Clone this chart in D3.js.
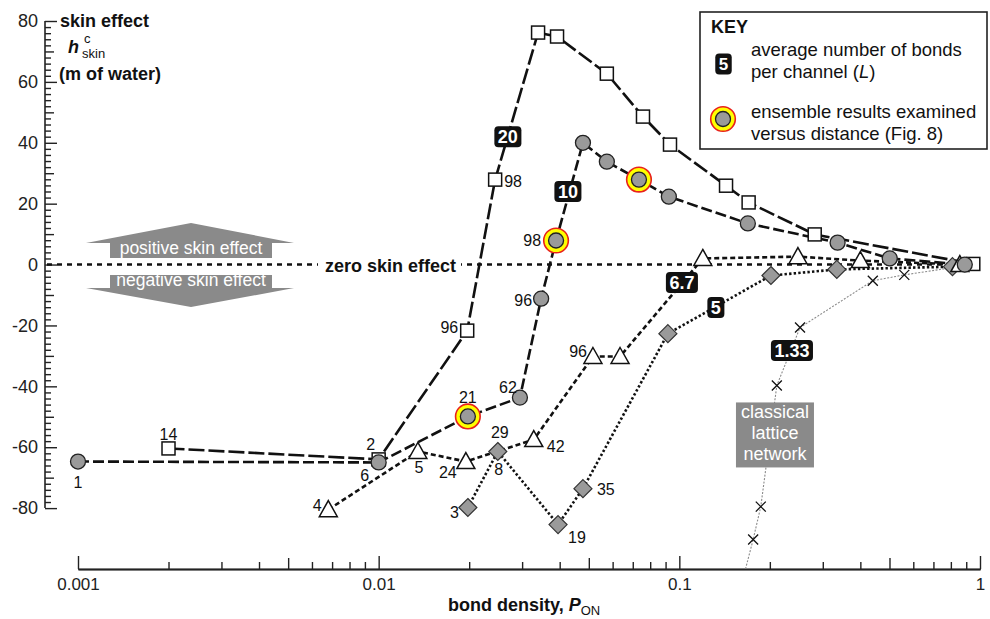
<!DOCTYPE html>
<html><head><meta charset="utf-8">
<script src="https://cdn.jsdelivr.net/npm/d3@7"></script>
<style>
body{margin:0;background:#fff}
svg{display:block;font-family:Arial,"Liberation Sans",sans-serif}
</style>
</head><body>
<svg id="c" width="990" height="619"></svg>
<script>
// ---------------- data ----------------
// L = 20 (open squares)
const s20P = [0.002, 0.01, 0.0197, 0.0244, 0.0339, 0.0392, 0.0574, 0.0757, 0.0931, 0.143, 0.170, 0.282, 0.95];
const s20H = [-60.4, -64, -21.7, 27.9, 76.2, 74.9, 62.7, 48.6, 39.4, 25.9, 20.4, 9.9, 0.2];
// L = 10 (grey circles)
const c10P = [0.001, 0.01, 0.0198, 0.0295, 0.0347, 0.0389, 0.0478, 0.0574, 0.0734, 0.0923, 0.169, 0.336, 0.501, 0.89];
const c10H = [-64.7, -65, -49.9, -43.7, -11.2, 7.9, 40.0, 33.8, 27.9, 22.3, 13.5, 7.2, 2.0, 0];
const c10Ringed = [false, false, true, false, false, true, false, false, true, false, false, false, false, false];
// L = 6.7 (open triangles)
const t67P = [0.0068, 0.0135, 0.0195, 0.0328, 0.0516, 0.0635, 0.1197, 0.248, 0.40, 0.857];
const t67H = [-80.5, -61.4, -64.7, -57.5, -30.2, -30.2, 2.0, 2.6, 1.3, 0];
// L = 5 (grey diamonds)
const d5P = [0.0198, 0.0249, 0.0395, 0.0478, 0.0916, 0.2017, 0.334, 0.81];
const d5H = [-79.8, -61.4, -85.4, -73.6, -22.7, -3.6, -1.6, -0.7];
// L = 1.33 classical lattice (crosses)
const x133P = [0.166, 0.176, 0.1866, 0.211, 0.252, 0.44, 0.56, 0.9];
const x133H = [-100, -90.3, -79.5, -39.7, -20.7, -5.3, -3.4, -0.3];
const x133Marked = [false, true, true, true, true, true, true, false];

// point labels: [series, point index, text]
const pointLabels = [
  ["s20",0,"14"],["s20",1,"2"],["s20",2,"96"],["s20",3,"98"],
  ["c10",0,"1"],["c10",1,"6"],["c10",2,"21"],["c10",3,"62"],["c10",4,"96"],["c10",5,"98"],
  ["t67",0,"4"],["t67",1,"5"],["t67",2,"24"],["t67",3,"42"],["t67",4,"96"],
  ["d5",0,"3"],["d5",1,"29"],["d5",1,"8"],["d5",2,"19"],["d5",3,"35"]
];
// L badges
const badgeText = ["20", "10", "6.7", "5", "1.33"];
const badgeP = [0.0269, 0.0426, 0.102, 0.1323, 0.2369];
const badgeH = [42, 24, -5.9, -14.1, -28.2];

const xTickValues = [0.001, 0.01, 0.1, 1];
const xTickLabels = ["0.001", "0.01", "0.1", "1"];
const yTickValues = [-80, -60, -40, -20, 0, 20, 40, 60, 80];

// ---------------- layout/styles ----------------
const labelPlacement = [
  [0,-8,"middle"],[-8,-9,"middle"],[-9,2,"end"],[9,7,"start"],
  [0,26,"middle"],[-14,19,"middle"],[0,-13,"middle"],[-12,-5,"middle"],[-9,7,"end"],[-15,5,"end"],
  [-11,1,"middle"],[1,22,"middle"],[-18,16,"middle"],[13,12,"start"],[-6,1,"end"],
  [-9,10,"end"],[2,-13,"middle"],[1,24,"middle"],[10,18,"start"],[14,6,"start"]
];
const GREY = "#9a9a9a";
const BOXGREY = "#8a8a8a";

const svg = d3.select("#c");
const x = d3.scaleLog().domain([0.001, 1]).range([78, 980]);
const y = d3.scaleLinear().domain([-100, 80]).range([569, 21]);
const AX = 45;

// ---------------- axes ----------------
const yg = svg.append("g").attr("transform", `translate(${AX},0)`);
const yMinor = d3.range(-80, 81, 2).filter(v => v % 10 !== 0);
const yMid = d3.range(-70, 71, 20);
yg.append("g").call(d3.axisLeft(y).tickValues(yMinor).tickSize(-6).tickFormat(""));
yg.append("g").call(d3.axisLeft(y).tickValues(yMid).tickSize(-9).tickFormat(""));
yg.append("g").call(d3.axisLeft(y).tickValues(yTickValues).tickSize(-12).tickPadding(7).tickFormat(d => String(d)));
yg.selectAll(".domain").remove();
yg.selectAll("line").attr("stroke", "#222").attr("stroke-width", 1.4);
yg.selectAll("text").attr("font-size", 18).attr("font-family", 'Arial,"Liberation Sans",sans-serif').attr("fill", "#222");
yg.append("line").attr("x1", 0).attr("x2", 0).attr("y1", y(-80)).attr("y2", y(80)).attr("stroke", "#222").attr("stroke-width", 1.6);

const xg = svg.append("g").attr("transform", `translate(0,${y(-100)})`);
const xMinor = [], xFive = [];
[0.001, 0.01, 0.1].forEach(k => { for (let m = 2; m <= 9; m++) (m === 5 ? xFive : xMinor).push(m * k); });
xg.append("g").call(d3.axisBottom(x).tickValues(xMinor).tickSize(-7).tickSizeOuter(0).tickFormat(""));
xg.append("g").call(d3.axisBottom(x).tickValues(xFive).tickSize(-11).tickSizeOuter(0).tickFormat(""));
xg.append("g").call(d3.axisBottom(x).tickValues(xTickValues).tickSize(-13).tickSizeOuter(0).tickPadding(9)
  .tickFormat((d, i) => xTickLabels[i]));
xg.selectAll(".domain").attr("stroke", "#222").attr("stroke-width", 1.6);
xg.selectAll("line").attr("stroke", "#222").attr("stroke-width", 1.4);
xg.selectAll("text").attr("font-size", 17).attr("font-family", 'Arial,"Liberation Sans",sans-serif').attr("fill", "#222");

// axis titles
const yt = svg.append("g").attr("font-weight", "bold").attr("fill", "#111");
yt.append("text").attr("x", 60).attr("y", 27).attr("font-size", 18).text("skin effect");
const ht = yt.append("text").attr("x", 68).attr("y", 53).attr("font-size", 18);
ht.append("tspan").attr("font-style", "italic").text("h");
yt.append("text").attr("x", 84).attr("y", 43).attr("font-size", 13).attr("font-weight", "normal").text("c");
yt.append("text").attr("x", 82).attr("y", 58).attr("font-size", 13).attr("font-weight", "normal").text("skin");
yt.append("text").attr("x", 59).attr("y", 80).attr("font-size", 18).text("(m of water)");

const xt = svg.append("text").attr("x", 448).attr("y", 611).attr("font-size", 18).attr("font-weight", "bold").attr("fill", "#111");
xt.append("tspan").text("bond density, ");
xt.append("tspan").attr("font-style", "italic").text("P");
xt.append("tspan").attr("font-size", 13).attr("font-weight", "normal").attr("dy", 4).text("ON");

// ---------------- zero line & arrows ----------------
svg.append("line").attr("x1", AX + 2).attr("x2", x(1)).attr("y1", y(0)).attr("y2", y(0))
  .attr("stroke", "#111").attr("stroke-width", 2.4).attr("stroke-dasharray", "5,5");
svg.append("rect").attr("x", 318).attr("y", y(0) - 12).attr("width", 143).attr("height", 22).attr("fill", "#fff");
svg.append("text").attr("x", 325).attr("y", y(0) + 7).attr("font-size", 18).attr("font-weight", "bold").attr("fill", "#111").text("zero skin effect");

svg.append("polygon").attr("fill", BOXGREY)
  .attr("points", "86,243 191,223 294,243 272,243 272,258 110,258 110,243");
svg.append("polygon").attr("fill", BOXGREY)
  .attr("points", "110,275 272,275 272,288 294,288 191,307 86,288 110,288");
svg.append("text").attr("x", 191).attr("y", 254).attr("text-anchor", "middle").attr("font-size", 17.5).attr("fill", "#fff").text("positive skin effect");
svg.append("text").attr("x", 191).attr("y", 286).attr("text-anchor", "middle").attr("font-size", 17.5).attr("fill", "#fff").text("negative skin effect");

// ---------------- series ----------------
const zip = (P, H) => P.map((p, i) => ({ p, h: H[i], i }));
const s20 = zip(s20P, s20H), c10 = zip(c10P, c10H), t67 = zip(t67P, t67H), d5 = zip(d5P, d5H), x133 = zip(x133P, x133H);
const lineGen = d3.line().x(d => x(d.p)).y(d => y(d.h));

svg.append("defs").append("clipPath").attr("id", "plot").append("rect")
  .attr("x", AX).attr("y", 0).attr("width", 990 - AX).attr("height", y(-100));
const lines = svg.append("g").attr("clip-path", "url(#plot)").attr("fill", "none");
lines.append("path").attr("d", lineGen(x133)).attr("stroke", "#8a8a8a").attr("stroke-width", 1.1).attr("stroke-dasharray", "2,1.5");
lines.append("path").attr("d", lineGen(d5)).attr("stroke", "#111").attr("stroke-width", 2.6).attr("stroke-dasharray", "2.4,2.2");
lines.append("path").attr("d", lineGen(t67)).attr("stroke", "#111").attr("stroke-width", 2.6).attr("stroke-dasharray", "5,3");
lines.append("path").attr("d", lineGen(c10)).attr("stroke", "#111").attr("stroke-width", 2.6).attr("stroke-dasharray", "11,4");
lines.append("path").attr("d", lineGen(s20)).attr("stroke", "#111").attr("stroke-width", 2.6).attr("stroke-dasharray", "16,4");

const mk = svg.append("g");
mk.selectAll(".xm").data(x133.filter(d => x133Marked[d.i])).join("path")
  .attr("transform", d => `translate(${x(d.p)},${y(d.h)})`)
  .attr("d", "M-5,-5L5,5M-5,5L5,-5").attr("stroke", "#111").attr("stroke-width", 1.3).attr("fill", "none");
mk.selectAll(".dm").data(d5).join("path")
  .attr("transform", d => `translate(${x(d.p)},${y(d.h)})`)
  .attr("d", "M0,-9L9,0L0,9L-9,0Z").attr("fill", GREY).attr("stroke", "#333").attr("stroke-width", 1.2);
mk.selectAll(".tm").data(t67).join("path")
  .attr("transform", d => `translate(${x(d.p)},${y(d.h)})`)
  .attr("d", "M0,-9L9,7L-9,7Z").attr("fill", "#fff").attr("stroke", "#111").attr("stroke-width", 1.5);
mk.selectAll(".sm").data(s20).join("rect")
  .attr("x", d => x(d.p) - 6.5).attr("y", d => y(d.h) - 6.5).attr("width", 13).attr("height", 13)
  .attr("fill", "#fff").attr("stroke", "#111").attr("stroke-width", 1.5);
mk.selectAll(".rm").data(c10.filter(d => c10Ringed[d.i])).join("circle")
  .attr("cx", d => x(d.p)).attr("cy", d => y(d.h)).attr("r", 12.3)
  .attr("fill", "#ffff00").attr("stroke", "#e8211c").attr("stroke-width", 1.6);
mk.selectAll(".cm").data(c10).join("circle")
  .attr("cx", d => x(d.p)).attr("cy", d => y(d.h)).attr("r", 7.5)
  .attr("fill", GREY).attr("stroke", "#222").attr("stroke-width", 1.3);

const seriesMap = { s20, c10, t67, d5 };
svg.append("g").attr("font-size", 16).attr("fill", "#111")
  .selectAll("text").data(pointLabels).join("text")
  .attr("x", (d, i) => x(seriesMap[d[0]][d[1]].p) + labelPlacement[i][0])
  .attr("y", (d, i) => y(seriesMap[d[0]][d[1]].h) + labelPlacement[i][1])
  .attr("text-anchor", (d, i) => labelPlacement[i][2])
  .text(d => d[2]);

function badge(g, cx, cy, txt, fs) {
  const t = g.append("text").attr("x", cx).attr("y", cy + fs * 0.36).attr("text-anchor", "middle")
    .attr("font-size", fs).attr("font-weight", "bold").attr("fill", "#fff").text(txt);
  const w = t.node().getComputedTextLength() + 7;
  g.insert("rect", "text").attr("x", cx - w / 2).attr("y", cy - 10.5).attr("width", w).attr("height", 21)
    .attr("rx", 4).attr("fill", "#111");
}
badgeText.forEach((t, i) => badge(svg.append("g"), x(badgeP[i]), y(badgeH[i]), t, 18));

const clx = x(0.208), cly = y(-55.8);
svg.append("rect").attr("x", clx - 39).attr("y", cly - 32).attr("width", 78).attr("height", 65).attr("fill", BOXGREY);
["classical", "lattice", "network"].forEach((t, i) =>
  svg.append("text").attr("x", clx).attr("y", cly - 16 + i * 21).attr("text-anchor", "middle")
    .attr("font-size", 18).attr("fill", "#fff").text(t));

// ---------------- key ----------------
const key = svg.append("g");
key.append("rect").attr("x", 700).attr("y", 12).attr("width", 287).attr("height", 137)
  .attr("fill", "#fff").attr("stroke", "#222").attr("stroke-width", 1.6);
key.append("text").attr("x", 711).attr("y", 33).attr("font-size", 18).attr("font-weight", "bold").attr("fill", "#111").text("KEY");
badge(key.append("g"), 723.5, 64, "5", 17);
key.append("text").attr("x", 751).attr("y", 56).attr("font-size", 18.5).attr("fill", "#111").text("average number of bonds");
const pc = key.append("text").attr("x", 751).attr("y", 78).attr("font-size", 18.5).attr("fill", "#111");
pc.append("tspan").text("per channel (");
pc.append("tspan").attr("font-style", "italic").text("L");
pc.append("tspan").text(")");
key.append("circle").attr("cx", 723).attr("cy", 119).attr("r", 12.3).attr("fill", "#ffff00").attr("stroke", "#e8211c").attr("stroke-width", 1.6);
key.append("circle").attr("cx", 723).attr("cy", 119).attr("r", 7.5).attr("fill", GREY).attr("stroke", "#222").attr("stroke-width", 1.3);
key.append("text").attr("x", 751).attr("y", 118).attr("font-size", 18.5).attr("fill", "#111").text("ensemble results examined");
key.append("text").attr("x", 751).attr("y", 140).attr("font-size", 18.5).attr("fill", "#111").text("versus distance (Fig. 8)");
</script>
</body></html>
